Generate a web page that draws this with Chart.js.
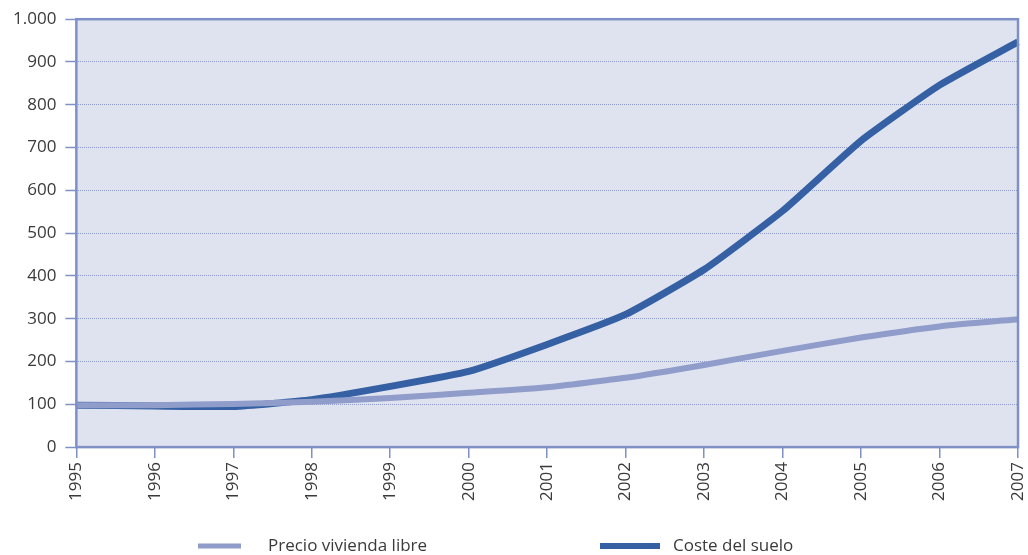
<!DOCTYPE html>
<html>
<head>
<meta charset="utf-8">
<script src="https://cdn.jsdelivr.net/npm/chart.js@4"></script>
<style>
  html, body { margin: 0; padding: 0; background: #fff; }
  #wrap { width: 1028px; height: 555px; }
</style>
</head>
<body>
<div id="wrap"><canvas id="myChart"></canvas></div>
<script>
'use strict';

// years on the x axis
const years = ['1995', '1996', '1997', '1998', '1999', '2000', '2001',
  '2002', '2003', '2004', '2005', '2006', '2007'];

// index values (1995 = ~100)
const precioVivienda = [98, 98, 101, 106, 115, 127, 140, 162, 192, 225, 256, 282, 299];
const costeSuelo = [98, 96, 95, 111, 142, 177, 240, 310, 415, 552, 716, 846, 947];

const yTicks = [0, 100, 200, 300, 400, 500, 600, 700, 800, 900, 1000];

const axisBlue = '#7f90c6';
const textColor = '#3a3a3a';
const fontFamily = "'Open Sans', 'Noto Sans', sans-serif";

// plot background and frame round the chart area
const plotFrame = {
  id: 'plotFrame',
  beforeDraw(chart) {
    const { ctx, chartArea: a } = chart;
    ctx.save();
    ctx.fillStyle = '#dfe3ef';
    ctx.fillRect(a.left, a.top, a.right - a.left, a.bottom - a.top);
    ctx.restore();
  },
  afterDatasetsDraw(chart) {
    const { ctx, chartArea: a } = chart;
    ctx.save();
    ctx.strokeStyle = axisBlue;
    ctx.lineWidth = 2.5;
    ctx.strokeRect(a.left, a.top, a.right - a.left, a.bottom - a.top);
    ctx.restore();
  },
};

// simple legend under the axis labels
const bottomLegend = {
  id: 'bottomLegend',
  afterDraw(chart) {
    const { ctx } = chart;
    const y = chart.height - 9;
    const items = [
      { x: 198, len: 43, gap: 27 },
      { x: 600, len: 60, gap: 13 },
    ];
    ctx.save();
    ctx.font = '17px ' + fontFamily;
    ctx.textBaseline = 'middle';
    chart.data.datasets.forEach((ds, i) => {
      const it = items[i];
      ctx.strokeStyle = ds.borderColor;
      ctx.lineWidth = ds.borderWidth - 1;
      ctx.beginPath();
      ctx.moveTo(it.x, y);
      ctx.lineTo(it.x + it.len, y);
      ctx.stroke();
      ctx.fillStyle = textColor;
      ctx.fillText(ds.label, it.x + it.len + it.gap, y);
    });
    ctx.restore();
  },
};

const ctx = document.getElementById('myChart').getContext('2d');

const myChart = new Chart(ctx, {
  type: 'line',
  data: {
    labels: years,
    datasets: [
      {
        label: 'Precio vivienda libre',
        data: precioVivienda,
        borderColor: '#909cca',
        backgroundColor: '#909cca',
        borderWidth: 6,
        pointRadius: 0,
        tension: 0.15,
      },
      {
        label: 'Coste del suelo',
        data: costeSuelo,
        borderColor: '#3560a3',
        backgroundColor: '#3560a3',
        borderWidth: 7,
        pointRadius: 0,
        tension: 0.15,
      },
    ],
  },
  options: {
    responsive: true,
    maintainAspectRatio: false,
    animation: false,
    layout: {
      padding: { top: 6, right: 10, left: 4, bottom: 50 },
    },
    scales: {
      x: {
        offset: false,
        afterFit(scale) {
          // rotated labels reserve extra room at the ends; drop it
          scale.paddingLeft = 0;
          scale.paddingRight = 0;
        },
        grid: {
          drawOnChartArea: false,
          drawTicks: true,
          tickLength: 11,
          color: axisBlue,
          lineWidth: 1.5,
        },
        border: { display: false },
        ticks: {
          color: textColor,
          font: { family: fontFamily, size: 17 },
          minRotation: 90,
          maxRotation: 90,
          padding: 4,
          autoSkip: false,
        },
      },
      y: {
        min: 0,
        max: 1000,
        afterBuildTicks(axis) {
          axis.ticks = yTicks.map((v) => ({ value: v }));
        },
        grid: {
          color: '#8e9ac9',
          lineWidth: 1,
          drawTicks: true,
          tickLength: 11,
          tickColor: axisBlue,
          tickWidth: 1.5,
        },
        border: { display: false, dash: [1, 1] },
        ticks: {
          color: textColor,
          font: { family: fontFamily, size: 17 },
          padding: 9,
          callback: (v) => String(v).replace(/\B(?=(\d{3})+(?!\d))/g, '.'),
        },
      },
    },
    plugins: {
      legend: { display: false },
      tooltip: { enabled: false },
    },
  },
  plugins: [plotFrame, bottomLegend],
});
</script>
</body>
</html>
